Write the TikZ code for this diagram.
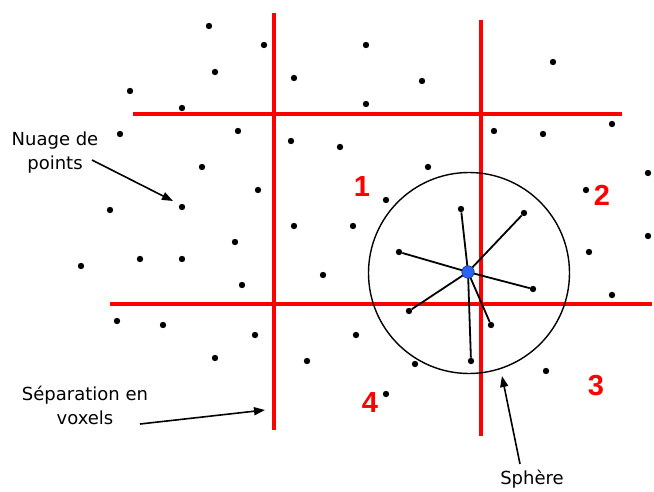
\documentclass[tikz,border=0pt]{standalone}
\usepackage{fontspec}
\setmainfont{DejaVu Sans}
\newfontfamily\numfont{Liberation Sans}
\usetikzlibrary{arrows.meta}
\begin{document}
\begin{tikzpicture}[x=1pt,y=-1pt,
  pt/.style={circle,fill=black,inner sep=0pt,minimum size=6.4pt},
  grid/.style={draw=red,line width=3.2pt},
  ray/.style={draw=black,line width=1.8pt},
  lbl/.style={font=\fontsize{18}{24}\selectfont,align=center,inner sep=0pt},
  num/.style={font=\numfont\bfseries\fontsize{29}{30}\selectfont,text=red,inner sep=0pt},
  arr/.style={draw=black,line width=1.6pt,-{Triangle[length=11pt,width=8pt]}}]
\useasboundingbox (0,0) rectangle (654,491);
% grid lines
\coordinate (v1t) at (274,13); \coordinate (v1b) at (274,430);
\coordinate (v2t) at (481,20); \coordinate (v2b) at (481,436);
\coordinate (h1l) at (133,114); \coordinate (h1r) at (622,114);
\coordinate (h2l) at (110,304); \coordinate (h2r) at (652,304);
\draw[grid] (v1t) -- (v1b);
\draw[grid] (v2t) -- (v2b);
\draw[grid] (h1l) -- (h1r);
\draw[grid] (h2l) -- (h2r);
% cloud points
\foreach \x/\y [count=\i] in {209/26,264/45,215/72,294/78,130/91,182/108,120/134,238/131,291/141,202/167,258/190,182/207,110/210,294/226,235/242,
366/45,422/81,366/104,553/62,494/131,543/134,612/124,340/147,428/167,386/200,353/226,648/173,586/190,648/236,
81/266,140/259,182/259,242/285,323/275,117/321,163/325,255/335,215/358,307/361,
589/252,612/295,356/335,415/364,546/371,386/394}
  \node[pt] (p\i) at (\x,\y) {};
% sphere
\node[circle,draw=black,line width=1.4pt,minimum size=201pt,inner sep=0pt] (sph) at (469,273) {};
% neighbours
\foreach \x/\y [count=\i] in {461/209,524/213,399/252,533/289,409/311,491/325,471/361}
  \node[pt] (n\i) at (\x,\y) {};
\coordinate (c) at (468,272);
\foreach \i in {1,...,7} \draw[ray] (c) -- (n\i);
\node[circle,fill={rgb,255:red,40;green,100;blue,245},draw={rgb,255:red,20;green,50;blue,150},line width=0.6pt,minimum size=12.5pt,inner sep=0pt] (cn) at (c) {};
% numbers
\node[num] (z1) at (362,187) {1};
\node[num] (z2) at (602,195) {2};
\node[num] (z3) at (596,386) {3};
\node[num] (z4) at (370,403) {4};
% labels
\node[lbl] (nuage) at (55,153) {Nuage de\\points};
\node[lbl] (sep) at (85,405) {Séparation en\\voxels};
\node[lbl,anchor=north] (sphl) at (532,470) {Sphère};
% arrows
\coordinate (a1s) at (92,160); \coordinate (a1e) at (173,201);
\coordinate (a2s) at (140,424); \coordinate (a2e) at (265,410);
\coordinate (a3s) at (520,464); \coordinate (a3e) at (502,376);
\draw[arr] (a1s) -- (a1e);
\draw[arr] (a2s) -- (a2e);
\draw[arr] (a3s) -- (a3e);
\end{tikzpicture}
\end{document}
